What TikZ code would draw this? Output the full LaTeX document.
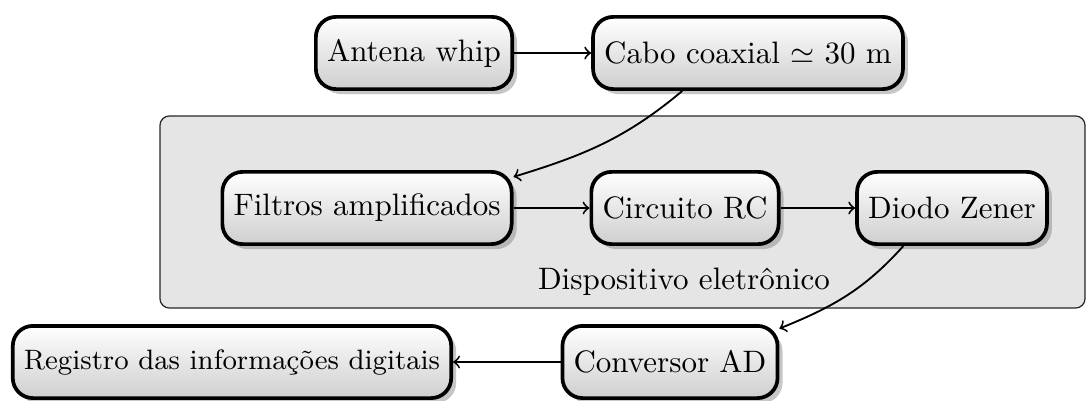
\documentclass[tikz,border=0pt]{standalone}
\usetikzlibrary{shadows,arrows}
\tikzset{
  block/.style={draw, rounded corners=6.5pt, very thick,
    top color=white, bottom color=black!19,
    drop shadow={shadow xshift=1.6pt, shadow yshift=-1.6pt, opacity=0.45},
    minimum height=23.3pt, inner xsep=0.36em},
  flow/.style={->, semithick},
  groupbox/.style={draw=black!85, fill=black!10, rounded corners=3pt, thin}
}
\begin{document}
\begin{tikzpicture}[x=0.3226pt, y=-0.3226pt]
  \useasboundingbox (0,0) rectangle (1088,401);

  % electronic device enclosure
  \draw[groupbox] (160,116) rectangle (1085,308);
  \node (devlabel) at (684,282) {Dispositivo eletrônico};

  % signal chain
  \node[block] (antena)    at (414,53)  {Antena whip};
  \node[block] (cabo)      at (748,53)  {Cabo coaxial $\simeq$ 30 m};
  \node[block] (filtros)   at (367,208) {Filtros amplificados};
  \node[block] (circuito)  at (685,208) {Circuito RC};
  \node[block] (diodo)     at (952,208) {Diodo Zener};
  \node[block] (conversor) at (670,362) {Conversor AD};
  \node[block, font=\fontsize{9.05}{11}\selectfont] (registro) at (232,362)
    {Registro das informações digitais};

  \draw[flow] (antena) -- (cabo);
  \draw[flow] (cabo.210) to[out=220, in=17] (filtros.12);
  \draw[flow] (filtros) -- (circuito);
  \draw[flow] (circuito) -- (diodo);
  \draw[flow] (diodo.218) to[out=228, in=22] (conversor.17);
  \draw[flow] (conversor) -- (registro);
\end{tikzpicture}
\end{document}
